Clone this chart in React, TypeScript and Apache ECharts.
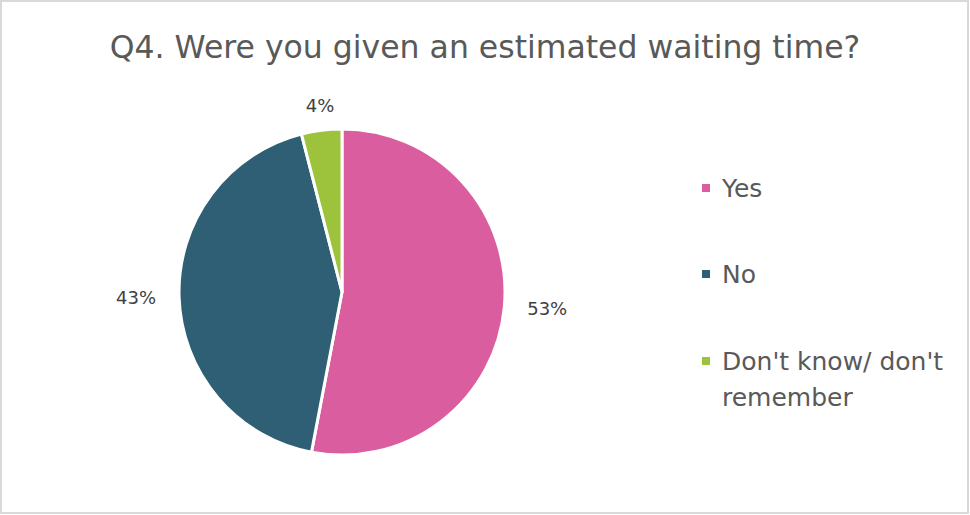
import React, { useEffect, useRef } from "react";
import * as echarts from "echarts";

const titleText = "Q4. Were you given an estimated waiting time?";
const categories = ["Yes", "No", "Don't know/ don't remember"];
const values = [53, 43, 4];
const colors = ["#DA5DA0", "#2E5F75", "#9DC23C"];

export default function App() {
  const ref = useRef<HTMLDivElement>(null);
  useEffect(() => {
    document.body.style.margin = "0";
    const chart = echarts.init(ref.current!, null, { renderer: "svg" });
    const font = "'DejaVu Sans', sans-serif";
    const data = categories.map((name, i) => {
      const item: any = { name, value: values[i], itemStyle: { color: colors[i] } };
      if (i === 2) {
        item.labelLine = { show: false, length: 25, length2: 0 };
        item.label = { distanceToLabelLine: -16 };
      }
      return item;
    });
    chart.setOption({
      animation: false,
      backgroundColor: "#ffffff",
      textStyle: { fontFamily: font },
      title: {
        text: titleText,
        left: "center",
        top: 26,
        textStyle: { fontSize: 31.5, fontWeight: "normal", color: "#595959", fontFamily: font },
      },
      graphic: [
        {
          type: "rect",
          shape: { x: 1, y: 1, width: 967, height: 512 },
          style: { fill: "none", stroke: "#d9d9d9", lineWidth: 2 },
          silent: true,
        },
      ],
      legend: [
        {
          orient: "vertical",
          left: 700,
          top: 170,
          padding: 0,
          itemGap: 50,
          itemWidth: 10,
          itemHeight: 10,
          icon: "rect",
          data: categories.slice(0, 2),
          textStyle: { fontSize: 25, color: "#595959", lineHeight: 36, padding: [0, 0, 0, 6], fontFamily: font },
        },
        {
          orient: "vertical",
          left: 700,
          top: 307,
          padding: 0,
          itemWidth: 10,
          itemHeight: 10,
          icon: "rect",
          data: categories.slice(2),
          formatter: (n: string) => "\u00a0\n" + n.replace("don't remember", "don't\nremember"),
          textStyle: { fontSize: 25, color: "#595959", lineHeight: 36, padding: [0, 0, 0, 6], fontFamily: font },
        },
      ],
      series: [
        {
          type: "pie",
          center: [342, 292],
          radius: 163,
          startAngle: 90,
          clockwise: true,
          avoidLabelOverlap: false,
          itemStyle: { borderColor: "#ffffff", borderWidth: 3 },
          label: {
            show: true,
            position: "outside",
            formatter: "{c}%",
            fontSize: 18,
            color: "#404040",
            fontFamily: font,
          },
          labelLine: { show: false, length: 14, length2: 4 },
          emphasis: { disabled: true },
          data,
        },
      ],
    });
    return () => chart.dispose();
  }, []);
  return <div ref={ref} style={{ width: 970, height: 515 }} />;
}
